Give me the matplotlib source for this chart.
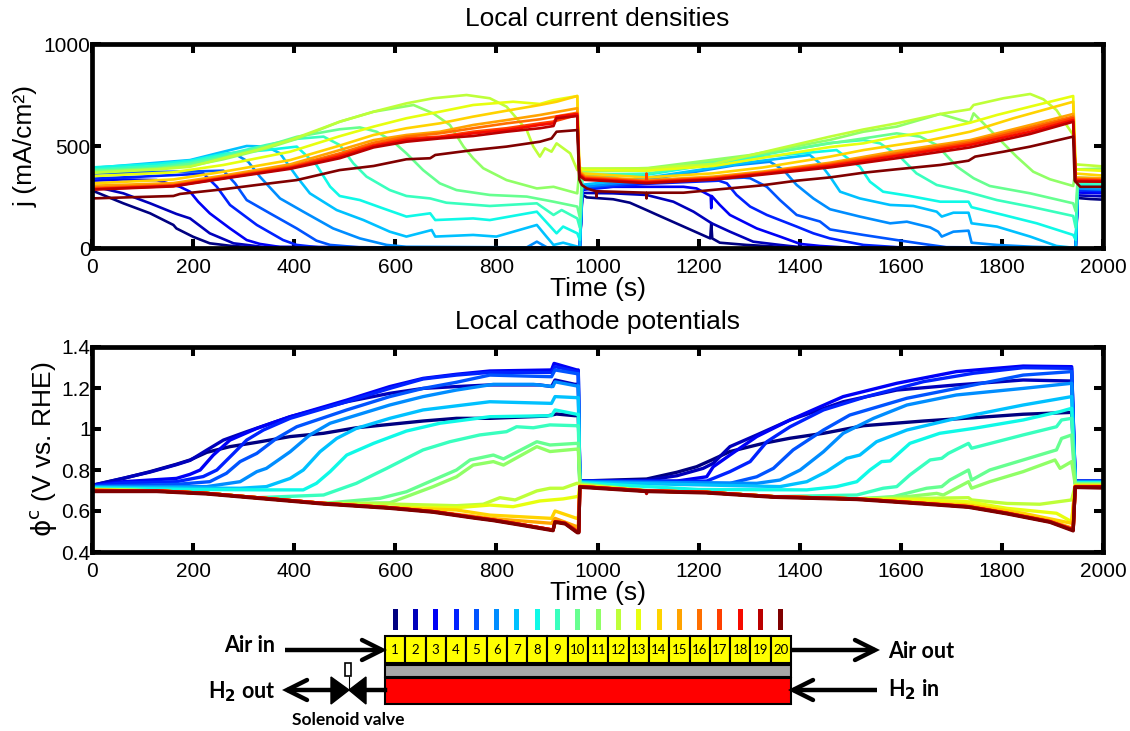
import matplotlib
matplotlib.use("Agg")
import matplotlib.pyplot as plt
from matplotlib.patches import Rectangle, Polygon

plt.rcParams['font.family'] = ['Liberation Sans', 'DejaVu Sans']
plt.rcParams['mathtext.fontset'] = 'dejavusans'

W, H = 1130, 731

# ---- local current density, cell by cell (time s, j mA/cm2) ----
j1_t = [0, 6, 62, 115, 161, 167, 200, 233, 273, 326, 962, 965, 970, 979, 1031, 1064, 1097, 1114, 1163, 1223, 1225, 1227, 1242, 1295, 1361, 1420, 1946, 1950, 1975, 2000]
j1 = [285, 276, 219, 170, 113, 96, 55, 23, 11, 2, 0, 0, 260, 248, 239, 222, 186, 167, 113, 47, 122, 47, 26, 15, 6, 2, 0, 245, 240, 237]
j2_t = [0, 62, 115, 167, 194, 233, 280, 339, 965, 970, 1031, 1097, 1150, 1190, 1226, 1262, 1308, 1361, 1394, 1450, 1946, 1950, 2000]
j2 = [304, 268, 219, 167, 145, 72, 23, 5, 0, 270, 268, 260, 227, 178, 121, 80, 31, 15, 6, 1, 0, 258, 253]
j3_t = [0, 62, 128, 174, 194, 210, 233, 273, 306, 332, 372, 965, 970, 1031, 1170, 1196, 1224, 1225, 1226, 1242, 1262, 1315, 1361, 1401, 1440, 1500, 1946, 1950, 2000]
j3 = [330, 336, 333, 300, 276, 227, 170, 96, 39, 20, 5, 0, 285, 300, 300, 292, 255, 195, 255, 211, 162, 96, 56, 20, 10, 1, 0, 272, 268]
j4_t = [0, 100, 200, 220, 247, 273, 326, 378, 405, 450, 965, 970, 1100, 1240, 1256, 1275, 1302, 1335, 1394, 1427, 1460, 1526, 1600, 1946, 1950, 2000]
j4 = [340, 350, 362, 366, 300, 211, 113, 39, 15, 3, 0, 290, 315, 330, 317, 260, 203, 162, 105, 72, 47, 15, 3, 0, 282, 278]
j5_t = [0, 100, 200, 260, 283, 306, 352, 405, 444, 471, 530, 965, 970, 1100, 1290, 1302, 1335, 1361, 1394, 1440, 1460, 1526, 1592, 1658, 1690, 1946, 1950, 2000]
j5 = [365, 372, 375, 379, 317, 235, 170, 96, 36, 15, 3, 0, 295, 325, 345, 342, 300, 235, 162, 130, 91, 64, 39, 15, 4, 0, 290, 285]
j6_t = [0, 100, 200, 280, 309, 332, 372, 418, 477, 530, 583, 622, 860, 880, 900, 965, 970, 1100, 1270, 1341, 1368, 1394, 1427, 1460, 1519, 1579, 1612, 1658, 1674, 1681, 1704, 1734, 1740, 1790, 1860, 1946, 1950, 2000]
j6 = [380, 388, 420, 465, 423, 350, 243, 178, 96, 47, 15, 6, 3, 31, 3, 0, 300, 335, 405, 423, 382, 309, 243, 190, 154, 121, 129, 101, 80, 56, 80, 85, 26, 15, 6, 0, 292, 288]
j7_t = [0, 128, 194, 260, 306, 345, 372, 405, 431, 484, 537, 589, 622, 672, 679, 754, 800, 880, 899, 913, 932, 960, 965, 970, 1100, 1300, 1420, 1440, 1460, 1480, 1519, 1579, 1625, 1671, 1681, 1704, 1734, 1740, 1790, 1856, 1908, 1946, 1950, 2000]
j7 = [392, 418, 431, 472, 500, 497, 464, 350, 268, 186, 137, 80, 56, 88, 56, 64, 56, 113, 56, 15, 26, 7, 0, 310, 345, 420, 456, 415, 350, 276, 243, 211, 206, 178, 154, 173, 173, 121, 105, 56, 10, 0, 300, 296]
j8_t = [0, 128, 194, 260, 345, 405, 444, 471, 490, 530, 576, 622, 669, 679, 754, 787, 880, 919, 932, 960, 965, 970, 1100, 1300, 1473, 1500, 1519, 1539, 1565, 1618, 1678, 1734, 1740, 1803, 1869, 1941, 1946, 1950, 2000]
j8 = [395, 412, 428, 462, 480, 497, 407, 301, 255, 235, 194, 154, 170, 137, 145, 137, 178, 72, 105, 72, 40, 350, 360, 440, 480, 431, 399, 325, 276, 255, 227, 227, 200, 162, 121, 64, 40, 310, 305]
j9_t = [0, 128, 194, 260, 345, 405, 458, 490, 517, 543, 589, 622, 669, 701, 787, 880, 913, 929, 960, 965, 970, 1100, 1300, 1460, 1526, 1559, 1598, 1631, 1671, 1730, 1790, 1856, 1941, 1946, 1950, 2000]
j9 = [385, 402, 420, 455, 505, 535, 546, 505, 415, 350, 284, 255, 243, 222, 206, 219, 162, 186, 145, 100, 358, 365, 445, 515, 529, 513, 448, 366, 309, 276, 235, 203, 157, 100, 320, 315]
j10_t = [0, 128, 194, 260, 345, 405, 490, 530, 563, 596, 622, 655, 688, 721, 787, 860, 913, 960, 965, 970, 1100, 1300, 1460, 1526, 1592, 1638, 1671, 1711, 1744, 1776, 1856, 1941, 1946, 1950, 2000]
j10 = [378, 392, 412, 445, 500, 545, 582, 591, 570, 521, 464, 382, 317, 284, 260, 252, 227, 203, 150, 375, 380, 450, 513, 537, 562, 546, 505, 399, 342, 304, 268, 219, 180, 345, 340]
j11_t = [0, 128, 194, 260, 345, 405, 490, 557, 636, 675, 708, 735, 754, 774, 820, 880, 913, 960, 964, 970, 1100, 1300, 1460, 1526, 1592, 1678, 1737, 1744, 1770, 1803, 1829, 1862, 1895, 1941, 1946, 2000]
j11 = [372, 388, 402, 435, 488, 535, 619, 668, 701, 660, 603, 497, 440, 391, 333, 292, 300, 268, 383, 383, 392, 455, 530, 570, 595, 657, 614, 660, 595, 513, 448, 374, 337, 304, 385, 390]
j12_t = [0, 128, 194, 260, 326, 392, 490, 557, 622, 675, 741, 787, 820, 840, 860, 873, 886, 896, 909, 919, 946, 960, 964, 970, 1097, 1229, 1361, 1460, 1526, 1592, 1678, 1737, 1744, 1803, 1856, 1882, 1908, 1941, 1946, 2000]
j12 = [368, 385, 398, 440, 480, 529, 619, 668, 709, 734, 750, 734, 693, 636, 578, 497, 448, 489, 472, 513, 464, 382, 395, 390, 390, 412, 489, 546, 581, 611, 657, 680, 701, 734, 755, 729, 676, 554, 410, 400]
j13_t = [0, 161, 260, 392, 490, 557, 622, 688, 754, 833, 886, 913, 960, 964, 970, 1097, 1229, 1361, 1460, 1526, 1592, 1658, 1737, 1790, 1856, 1941, 1946, 2000]
j13 = [352, 371, 407, 472, 548, 595, 636, 668, 701, 717, 706, 725, 745, 395, 382, 379, 402, 456, 495, 513, 546, 570, 614, 652, 693, 745, 385, 378]
j14_t = [0, 161, 260, 392, 490, 557, 622, 688, 754, 820, 886, 919, 960, 964, 970, 1097, 1229, 1328, 1460, 1526, 1592, 1658, 1737, 1823, 1941, 1946, 2000]
j14 = [317, 336, 374, 431, 502, 554, 587, 611, 644, 673, 701, 717, 745, 385, 366, 346, 366, 395, 448, 480, 505, 529, 570, 636, 717, 365, 355]
j15_t = [0, 161, 260, 392, 490, 557, 622, 688, 754, 820, 886, 960, 964, 975, 1097, 1229, 1328, 1460, 1592, 1737, 1856, 1941, 1946, 2000]
j15 = [305, 318, 355, 410, 480, 529, 554, 570, 603, 627, 652, 685, 375, 352, 332, 350, 375, 418, 475, 529, 603, 657, 345, 342]
j16_t = [0, 161, 260, 392, 490, 557, 622, 688, 754, 820, 886, 960, 964, 975, 1097, 1229, 1328, 1460, 1592, 1737, 1856, 1941, 1946, 2000]
j16 = [295, 310, 348, 400, 464, 516, 546, 562, 587, 611, 631, 663, 370, 346, 328, 345, 370, 412, 464, 521, 592, 644, 338, 335]
j17_t = [0, 161, 260, 392, 490, 557, 622, 688, 754, 820, 886, 913, 960, 964, 975, 1096, 1097, 1098, 1229, 1328, 1460, 1592, 1737, 1856, 1941, 1946, 2000]
j17 = [290, 306, 344, 395, 456, 505, 537, 546, 570, 587, 611, 620, 652, 365, 342, 325, 365, 325, 342, 367, 407, 456, 513, 582, 636, 335, 332]
j18_t = [0, 161, 260, 392, 490, 557, 622, 688, 754, 820, 886, 913, 919, 960, 964, 975, 1097, 1229, 1328, 1460, 1592, 1737, 1856, 1941, 1946, 2000]
j18 = [288, 304, 342, 392, 448, 500, 530, 542, 562, 578, 603, 611, 644, 657, 360, 338, 322, 338, 364, 402, 451, 505, 570, 627, 330, 328]
j19_t = [0, 161, 260, 392, 490, 557, 622, 688, 754, 820, 886, 913, 919, 960, 964, 975, 1097, 1229, 1328, 1460, 1592, 1737, 1856, 1941, 1946, 2000]
j19 = [286, 302, 340, 388, 440, 493, 521, 537, 549, 570, 587, 598, 636, 647, 355, 334, 318, 335, 360, 395, 440, 493, 559, 619, 326, 325]
j20_t = [0, 161, 174, 260, 326, 405, 490, 557, 622, 669, 679, 754, 820, 886, 909, 919, 960, 964, 969, 979, 997, 998, 999, 1031, 1096, 1097, 1098, 1170, 1242, 1321, 1394, 1460, 1526, 1592, 1678, 1734, 1747, 1803, 1856, 1941, 1944, 1955, 2000]
j20 = [243, 255, 265, 288, 309, 333, 382, 402, 435, 440, 456, 480, 497, 521, 537, 570, 578, 335, 309, 292, 278, 251, 278, 276, 271, 243, 271, 271, 288, 306, 330, 346, 369, 386, 407, 428, 448, 472, 497, 546, 330, 300, 300]

# ---- local cathode potential (time s, V vs RHE) ----
p1_t = [0, 62, 115, 167, 194, 227, 273, 326, 392, 458, 523, 655, 721, 787, 899, 919, 955, 962, 965, 1097, 1157, 1196, 1226, 1262, 1328, 1381, 1447, 1526, 1645, 1744, 1842, 1938, 1945, 2000]
p1 = [0.725, 0.759, 0.792, 0.828, 0.849, 0.886, 0.914, 0.935, 0.963, 0.979, 1.006, 1.039, 1.052, 1.052, 1.063, 1.073, 1.065, 1.065, 0.746, 0.756, 0.789, 0.816, 0.849, 0.89, 0.93, 0.955, 0.979, 1.016, 1.039, 1.055, 1.072, 1.081, 0.745, 0.745]
p2_t = [0, 115, 167, 194, 227, 260, 306, 392, 504, 589, 655, 721, 787, 886, 909, 916, 955, 962, 965, 1097, 1157, 1209, 1229, 1262, 1315, 1381, 1486, 1592, 1710, 1842, 1938, 1945, 2000]
p2 = [0.725, 0.79, 0.826, 0.847, 0.897, 0.946, 0.987, 1.06, 1.133, 1.174, 1.198, 1.207, 1.215, 1.215, 1.207, 1.239, 1.218, 1.218, 0.746, 0.75, 0.772, 0.808, 0.833, 0.914, 0.971, 1.044, 1.133, 1.19, 1.215, 1.239, 1.234, 0.745, 0.745]
p3_t = [0, 62, 167, 194, 214, 240, 273, 326, 392, 504, 589, 655, 721, 787, 909, 914, 959, 962, 965, 1157, 1216, 1229, 1262, 1315, 1381, 1486, 1592, 1710, 1842, 1938, 1945, 2000]
p3 = [0.725, 0.743, 0.759, 0.779, 0.80, 0.873, 0.946, 1.003, 1.06, 1.141, 1.207, 1.247, 1.267, 1.283, 1.288, 1.32, 1.288, 1.288, 0.745, 0.746, 0.767, 0.816, 0.873, 0.963, 1.044, 1.158, 1.223, 1.28, 1.307, 1.304, 0.745, 0.745]
p4_t = [0, 62, 167, 220, 247, 280, 306, 339, 392, 504, 589, 655, 721, 787, 909, 916, 959, 962, 965, 1216, 1262, 1302, 1335, 1381, 1447, 1532, 1645, 1744, 1842, 1938, 1945, 2000]
p4 = [0.722, 0.737, 0.743, 0.768, 0.80, 0.881, 0.946, 0.995, 1.052, 1.133, 1.198, 1.244, 1.263, 1.276, 1.276, 1.304, 1.28, 1.28, 0.745, 0.746, 0.792, 0.841, 0.938, 1.011, 1.093, 1.158, 1.231, 1.272, 1.299, 1.296, 0.745, 0.745]
p5_t = [0, 167, 233, 266, 293, 326, 365, 405, 504, 589, 655, 721, 787, 909, 916, 959, 962, 965, 1262, 1315, 1348, 1387, 1447, 1499, 1612, 1710, 1842, 1938, 1945, 2000]
p5 = [0.72, 0.73, 0.743, 0.784, 0.841, 0.881, 0.954, 1.011, 1.093, 1.158, 1.198, 1.228, 1.263, 1.255, 1.288, 1.27, 1.27, 0.745, 0.735, 0.767, 0.808, 0.898, 0.995, 1.068, 1.15, 1.198, 1.263, 1.28, 0.745, 0.745]
p6_t = [0, 227, 293, 326, 345, 392, 431, 471, 589, 655, 721, 794, 873, 912, 916, 959, 962, 965, 1315, 1361, 1401, 1447, 1486, 1546, 1612, 1710, 1842, 1938, 1945, 2000]
p6 = [0.718, 0.719, 0.743, 0.792, 0.808, 0.889, 0.971, 1.028, 1.117, 1.158, 1.19, 1.218, 1.218, 1.207, 1.23, 1.21, 1.21, 0.742, 0.735, 0.751, 0.80, 0.889, 0.979, 1.052, 1.117, 1.166, 1.198, 1.223, 0.742, 0.742]
p7_t = [0, 293, 345, 392, 418, 451, 484, 523, 589, 655, 787, 909, 916, 959, 962, 965, 1361, 1414, 1453, 1493, 1519, 1552, 1612, 1710, 1842, 1938, 1945, 2000]
p7 = [0.715, 0.711, 0.719, 0.759, 0.80, 0.889, 0.954, 1.003, 1.052, 1.093, 1.133, 1.125, 1.158, 1.153, 1.153, 0.74, 0.719, 0.743, 0.792, 0.857, 0.873, 0.938, 0.995, 1.052, 1.117, 1.158, 0.74, 0.74]
p8_t = [0, 200, 345, 418, 444, 471, 504, 557, 622, 688, 787, 909, 916, 959, 962, 965, 1200, 1414, 1473, 1513, 1539, 1562, 1579, 1618, 1677, 1744, 1842, 1915, 1938, 1945, 2000]
p8 = [0.712, 0.705, 0.703, 0.703, 0.735, 0.792, 0.873, 0.93, 0.99, 1.028, 1.06, 1.065, 1.093, 1.072, 1.072, 0.738, 0.705, 0.703, 0.719, 0.743, 0.80, 0.841, 0.844, 0.93, 0.979, 1.003, 1.044, 1.085, 1.101, 0.738, 0.738]
p9_t = [0, 128, 227, 326, 458, 523, 563, 583, 622, 655, 708, 767, 820, 840, 873, 906, 959, 962, 965, 1097, 1216, 1348, 1513, 1565, 1592, 1618, 1658, 1681, 1694, 1734, 1740, 1842, 1908, 1918, 1938, 1945, 2000]
p9 = [0.71, 0.698, 0.686, 0.665, 0.678, 0.735, 0.784, 0.808, 0.857, 0.898, 0.938, 0.971, 0.987, 1.011, 1.006, 1.02, 1.016, 1.016, 0.735, 0.70, 0.691, 0.67, 0.678, 0.711, 0.719, 0.776, 0.849, 0.857, 0.881, 0.93, 0.906, 0.971, 1.011, 1.044, 1.052, 0.735, 0.735]
p10_t = [0, 128, 227, 326, 458, 570, 622, 675, 721, 748, 794, 814, 880, 906, 959, 962, 965, 1097, 1216, 1348, 1513, 1585, 1651, 1681, 1697, 1734, 1740, 1776, 1842, 1908, 1918, 1938, 1945, 2000]
p10 = [0.706, 0.698, 0.686, 0.665, 0.637, 0.662, 0.694, 0.751, 0.80, 0.849, 0.873, 0.854, 0.938, 0.922, 0.93, 0.93, 0.733, 0.70, 0.691, 0.67, 0.659, 0.67, 0.711, 0.719, 0.751, 0.80, 0.751, 0.80, 0.849, 0.898, 0.954, 0.971, 0.733, 0.733]
p11_t = [0, 128, 227, 326, 458, 589, 622, 675, 721, 754, 794, 814, 880, 906, 959, 962, 965, 1097, 1216, 1348, 1513, 1612, 1671, 1684, 1734, 1740, 1776, 1842, 1905, 1915, 1938, 1945, 2000]
p11 = [0.705, 0.698, 0.686, 0.665, 0.637, 0.64, 0.67, 0.719, 0.767, 0.824, 0.841, 0.824, 0.914, 0.89, 0.902, 0.902, 0.73, 0.698, 0.691, 0.67, 0.659, 0.67, 0.686, 0.678, 0.743, 0.711, 0.743, 0.792, 0.849, 0.808, 0.841, 0.73, 0.73]
p12_t = [0, 128, 227, 326, 458, 589, 721, 774, 807, 837, 880, 906, 932, 959, 962, 965, 1097, 1216, 1348, 1513, 1645, 1734, 1740, 1810, 1875, 1938, 1945, 2000]
p12 = [0.705, 0.698, 0.686, 0.665, 0.637, 0.634, 0.626, 0.633, 0.665, 0.654, 0.698, 0.711, 0.711, 0.735, 0.735, 0.725, 0.698, 0.691, 0.67, 0.659, 0.662, 0.665, 0.654, 0.637, 0.633, 0.654, 0.725, 0.725]
p13_t = [0, 128, 227, 326, 458, 589, 721, 787, 833, 886, 932, 959, 962, 965, 1097, 1216, 1348, 1513, 1645, 1734, 1810, 1908, 1938, 1945, 2000]
p13 = [0.703, 0.698, 0.686, 0.665, 0.637, 0.618, 0.616, 0.629, 0.621, 0.649, 0.659, 0.67, 0.67, 0.725, 0.698, 0.691, 0.67, 0.659, 0.654, 0.645, 0.613, 0.589, 0.548, 0.725, 0.725]
p14_t = [0, 128, 227, 326, 458, 589, 721, 787, 909, 916, 959, 962, 965, 1097, 1216, 1348, 1513, 1645, 1734, 1842, 1938, 1945, 2000]
p14 = [0.70, 0.698, 0.686, 0.665, 0.637, 0.616, 0.605, 0.58, 0.564, 0.60, 0.564, 0.564, 0.722, 0.698, 0.691, 0.67, 0.659, 0.64, 0.63, 0.589, 0.54, 0.722, 0.722]
p15_t = [0, 128, 227, 326, 458, 589, 675, 754, 787, 909, 916, 959, 962, 965, 1097, 1216, 1348, 1513, 1645, 1734, 1810, 1895, 1941, 1945, 2000]
p15 = [0.70, 0.698, 0.686, 0.665, 0.637, 0.616, 0.597, 0.575, 0.564, 0.54, 0.564, 0.524, 0.524, 0.72, 0.698, 0.691, 0.67, 0.659, 0.637, 0.623, 0.592, 0.552, 0.515, 0.72, 0.72]
p16_t = [0, 128, 227, 326, 458, 589, 675, 754, 794, 853, 912, 916, 936, 960, 963, 965, 1097, 1216, 1348, 1513, 1645, 1734, 1810, 1895, 1941, 1945, 2000]
p16 = [0.70, 0.698, 0.686, 0.665, 0.637, 0.616, 0.597, 0.569, 0.556, 0.532, 0.507, 0.548, 0.54, 0.505, 0.505, 0.719, 0.698, 0.691, 0.67, 0.659, 0.637, 0.621, 0.589, 0.548, 0.51, 0.718, 0.718]
p17_t = p16_t
p17 = [0.70, 0.698, 0.686, 0.665, 0.637, 0.616, 0.597, 0.569, 0.556, 0.532, 0.507, 0.548, 0.54, 0.50, 0.50, 0.719, 0.698, 0.691, 0.67, 0.659, 0.637, 0.621, 0.589, 0.548, 0.508, 0.718, 0.718]
p18_t = p16_t
p18 = [0.70, 0.698, 0.686, 0.665, 0.637, 0.616, 0.597, 0.569, 0.556, 0.532, 0.507, 0.548, 0.54, 0.498, 0.498, 0.719, 0.698, 0.691, 0.67, 0.659, 0.637, 0.621, 0.589, 0.548, 0.507, 0.718, 0.718]
p19_t = [0, 128, 227, 326, 458, 589, 675, 754, 794, 853, 912, 916, 936, 960, 963, 965, 1096, 1097, 1098, 1216, 1348, 1513, 1645, 1734, 1810, 1895, 1941, 1945, 2000]
p19 = [0.698, 0.698, 0.686, 0.665, 0.637, 0.616, 0.597, 0.569, 0.556, 0.532, 0.507, 0.548, 0.54, 0.497, 0.497, 0.719, 0.698, 0.685, 0.698, 0.691, 0.67, 0.659, 0.637, 0.621, 0.589, 0.548, 0.507, 0.718, 0.718]
p20_t = p16_t
p20 = [0.695, 0.695, 0.683, 0.662, 0.634, 0.613, 0.594, 0.566, 0.553, 0.529, 0.504, 0.545, 0.537, 0.494, 0.494, 0.716, 0.695, 0.688, 0.667, 0.656, 0.634, 0.618, 0.586, 0.545, 0.503, 0.715, 0.712]

j_times = [j1_t, j2_t, j3_t, j4_t, j5_t, j6_t, j7_t, j8_t, j9_t, j10_t, j11_t, j12_t, j13_t, j14_t, j15_t, j16_t, j17_t, j18_t, j19_t, j20_t]
j_values = [j1, j2, j3, j4, j5, j6, j7, j8, j9, j10, j11, j12, j13, j14, j15, j16, j17, j18, j19, j20]
p_times = [p1_t, p2_t, p3_t, p4_t, p5_t, p6_t, p7_t, p8_t, p9_t, p10_t, p11_t, p12_t, p13_t, p14_t, p15_t, p16_t, p17_t, p18_t, p19_t, p20_t]
p_values = [p1, p2, p3, p4, p5, p6, p7, p8, p9, p10, p11, p12, p13, p14, p15, p16, p17, p18, p19, p20]

cells = list(range(1, 21))
x_ticks = list(range(0, 2001, 200))
j_ticks = [0, 500, 1000]
p_ticks = [0.4, 0.6, 0.8, 1, 1.2, 1.4]
p_tick_labels = ['0.4', '0.6', '0.8', '1', '1.2', '1.4']

colors = [plt.cm.jet(i / 19) for i in range(20)]


def px_axes(fig, left, top, right, bottom):
    return fig.add_axes([left / W, 1 - bottom / H, (right - left) / W, (bottom - top) / H])


def style_panel(ax):
    ax.set_xlim(0, 2000)
    ax.set_xticks(x_ticks)
    for s in ax.spines.values():
        s.set_linewidth(3.4)
        s.set_zorder(6)
    ax.tick_params(direction='in', length=6.5, width=2.9, top=True, right=True,
                   labelsize=15, pad=1)
    ax.tick_params(axis='x', pad=7)
    ax.set_xlabel('Time (s)', fontsize=19, labelpad=0)


fig = plt.figure(figsize=(W / 100, H / 100), dpi=100)

# top panel
ax1 = px_axes(fig, 92, 44, 1103, 248)
for t, v, c in zip(j_times, j_values, colors):
    ax1.plot(t, v, color=c, lw=1.9)
style_panel(ax1)
ax1.set_ylim(0, 1000)
ax1.set_yticks(j_ticks)
ax1.set_ylabel('j (mA/cm²)', fontsize=19, labelpad=4)
ax1.set_title('Local current densities', fontsize=19, pad=13)

# bottom panel
ax2 = px_axes(fig, 92, 347, 1103, 552)
for t, v, c in zip(p_times, p_values, colors):
    ax2.plot(t, v, color=c, lw=2.4)
style_panel(ax2)
ax2.set_ylim(0.4, 1.4)
ax2.set_yticks(p_ticks)
ax2.set_yticklabels(p_tick_labels)
ax2.set_ylabel(r'$\mathrm{\phi}^{\mathrm{c}}$ (V vs. RHE)', fontsize=19, labelpad=2)
ax2.set_title('Local cathode potentials', fontsize=19, pad=13)

# channel diagram, in pixel coordinates
d = fig.add_axes([0, 0, 1, 1], zorder=10)
d.set_xlim(0, W)
d.set_ylim(H, 0)
d.axis('off')
d.patch.set_alpha(0)

cell_w = (791 - 385) / 20
for i, c in zip(cells, colors):
    x0 = 385 + (i - 1) * cell_w
    d.add_patch(Rectangle((x0, 636), cell_w, 27, fc='#ffff00', ec='black', lw=1.5))
    d.add_patch(Rectangle((x0 + cell_w / 2 - 2.5, 609), 5, 21, fc=c, ec='none'))
    d.text(x0 + cell_w / 2, 650, str(i), ha='center', va='center', fontsize=9.5, family='Lato')
d.add_patch(Rectangle((385, 664.5), 406, 12, fc='#a6a6a6', ec='black', lw=1.5))
d.add_patch(Rectangle((385, 677.5), 406, 26, fc='#ff0000', ec='black', lw=1.5))


def arrow(x_from, x_to, y, head):
    d.plot([x_from, x_to], [y, y], color='black', lw=3.2, solid_capstyle='butt')
    d.plot([x_to + head, x_to, x_to + head], [y - 10, y, y + 10], color='black', lw=3.2,
           solid_capstyle='round', solid_joinstyle='miter')


arrow(285, 382, 650, -20)
arrow(792, 875, 650, -20)
arrow(877, 793, 690, 20)
arrow(331, 287, 690, 20)
d.plot([366, 385], [690, 690], color='black', lw=3.2)
d.add_patch(Polygon([(331, 677), (331, 704), (349, 690)], fc='black', ec='black'))
d.add_patch(Polygon([(366, 677), (366, 704), (349, 690)], fc='black', ec='black'))
d.plot([348.5, 348.5], [677, 690], color='black', lw=0.8)
d.add_patch(Rectangle((345, 663), 6, 13, fc='white', ec='black', lw=1.2))

lbl = dict(fontsize=15.5, fontweight='bold', family='Lato', va='center')
d.text(275, 646, 'Air in', ha='right', **lbl)
d.text(888, 651, 'Air out', ha='left', **lbl)
d.text(275, 692, r'H$_{\mathbf{2}}$ out', ha='right', **lbl)
d.text(888, 690, r'H$_{\mathbf{2}}$ in', ha='left', **lbl)
d.text(348, 720, 'Solenoid valve', ha='center', va='center', fontsize=12.5, fontweight='bold', family='Lato')

fig.savefig('out.png', dpi=100)
